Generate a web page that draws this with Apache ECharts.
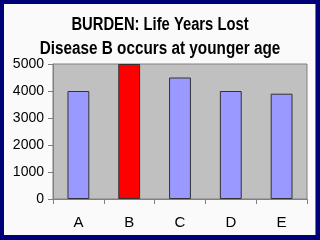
<!DOCTYPE html>
<html><head><meta charset="utf-8">
<script src="https://cdn.jsdelivr.net/npm/echarts@6/dist/echarts.min.js"></script>
<style>
html,body{margin:0;padding:0;background:#000078;}
#frame{position:absolute;left:4px;top:4px;width:311px;height:231px;background:#fafafa;border-right:1px solid #777;}
#c{position:absolute;left:0;top:0;width:320px;height:240px;}
</style></head>
<body><div id="frame"></div><div id="c"></div>
<script>
var categories = ['A','B','C','D','E'];
var values = [4000, 5000, 4500, 4000, 3900];
var highlight = 'B';
var yTicks = [0, 1000, 2000, 3000, 4000, 5000];
var titleLines = ['BURDEN: Life Years Lost', 'Disease B occurs at younger age'];

function titleText(txt, y, sx) {
  return {
    type:'text', x:160, y:y, scaleX:sx, scaleY:1,
    style:{text:txt, font:'bold 18px "Liberation Sans", Arial, sans-serif', fill:'#000',
      textAlign:'center', textVerticalAlign:'top',
      textShadowColor:'#8a6a50', textShadowOffsetX:1, textShadowOffsetY:1, textShadowBlur:0}
  };
}
var chart = echarts.init(document.getElementById('c'), null, {renderer:'canvas'});
chart.setOption({
  backgroundColor: 'transparent',
  animation: false,
  graphic: [titleText(titleLines[0], 16, 0.82), titleText(titleLines[1], 40, 0.85)],
  grid: {left:53, top:64, right:13, bottom:41, show:true, backgroundColor:'#c0c0c0', borderColor:'#808080', borderWidth:1},
  xAxis: {
    type:'category', data: categories,
    axisLine:{lineStyle:{color:'#808080'}},
    axisTick:{show:true, alignWithLabel:false, length:5, lineStyle:{color:'#808080'}},
    axisLabel:{color:'#000', fontFamily:'Liberation Sans', fontSize:15, margin:16}
  },
  yAxis: {
    type:'value', min:0, max:5000, interval:1000,
    axisLine:{show:true, lineStyle:{color:'#808080'}},
    axisTick:{show:true, length:5, lineStyle:{color:'#808080'}},
    splitLine:{show:false},
    axisLabel:{color:'#000', fontFamily:'Liberation Sans', fontSize:14, margin:9,
      formatter:function(v){ return yTicks.indexOf(v)>=0 ? String(v) : ''; }}
  },
  series: [{
    type:'bar', barWidth:'43%',
    data: values.map(function(v,i){
      return {value:v, itemStyle:{color: categories[i]===highlight ? '#ff0000' : '#9999ff', borderColor:'#333', borderWidth:1}};
    })
  }]
});
</script></body></html>
